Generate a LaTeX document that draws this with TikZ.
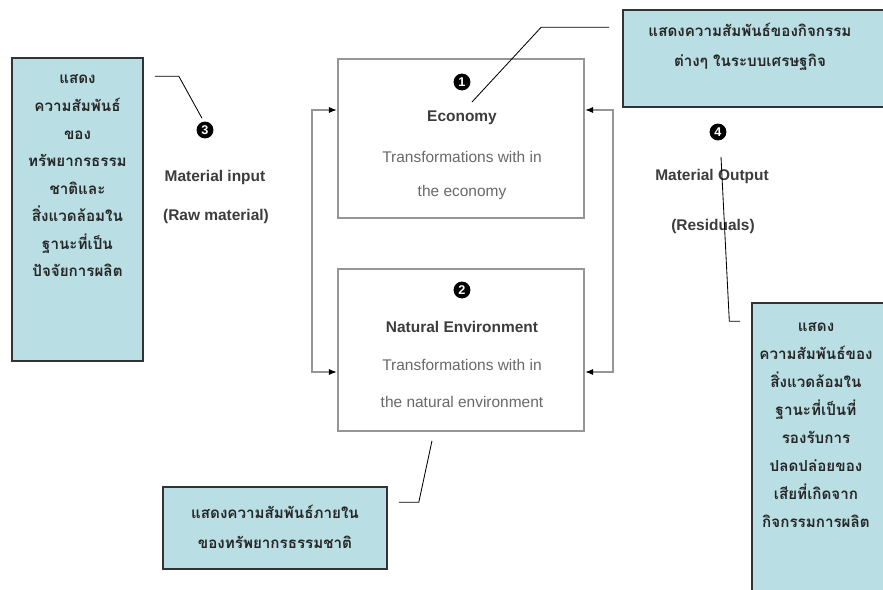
\documentclass[tikz,border=0pt]{standalone}
\usepackage{fontspec}
\setmainfont{Liberation Sans}
\newfontfamily\thaifont[Script=Thai]{Loma}
\usetikzlibrary{arrows.meta,calc,positioning}
\definecolor{notefill}{RGB}{185,222,228}
\definecolor{boxgray}{RGB}{150,150,150}
\definecolor{txtgray}{RGB}{105,105,105}
\definecolor{labgray}{RGB}{60,60,60}

\begin{document}
\begin{tikzpicture}[x=0.025cm,y=-0.025cm,
    sector/.style={draw=boxgray,line width=1.1pt,inner sep=0pt},
    note/.style={draw=black!80,fill=notefill,line width=1.1pt,inner sep=0pt},
    notetext/.style={align=center,text=black!85},
    num/.style={circle,fill=black,text=white,inner sep=0pt,minimum size=12pt,font=\bfseries\fontsize{9}{10}\selectfont},
    title/.style={text=labgray,font=\bfseries\fontsize{11}{13}\selectfont},
    sub/.style={text=txtgray,font=\fontsize{11}{13}\selectfont},
    feed/.style={draw=boxgray,line width=1.1pt,{Latex[black,length=6pt,width=4.5pt]}-{Latex[black,length=6pt,width=4.5pt]}},
    leader/.style={draw=black,line width=0.6pt}]
        % Frame of the picture
        \clip (0,0) rectangle (883,590);
        \fill[white] (0,0) rectangle (883,590);
        % The two sectors
        \node[sector,minimum width=6.15cm,minimum height=3.975cm] (eco) at (461,138.5) {};
        \node[sector,minimum width=6.15cm,minimum height=4.05cm] (nat) at (461,350) {};
        \node[num] (num1) at (462,82) {1};
        \node[title] (econame) at (462,118) {Economy};
        \node[sub] (ecoa) at (462,157) {Transformations with in};
        \node[sub] (ecob) at (462,193) {the economy};
        \node[num] (num2) at (462,290) {2};
        \node[title] (natname) at (462,327) {Natural Environment};
        \node[sub] (nata) at (462,365) {Transformations with in};
        \node[sub] (natb) at (462,402) {the natural environment};
        % Flows between the sectors
        \draw[feed] (eco.west |- 0,110) -- ++(-25,0) |- (nat.west |- 0,372);
        \draw[feed] (eco.east |- 0,110) -- ++(28,0) |- (nat.east |- 0,372);
        % Material in and out
        \node[num] (num3) at (205,130) {3};
        \node[title] (inname) at (215,178) {Material input};
        \node[title] (inraw) at (216,217) {(Raw material)};
        \node[num] (num4) at (718,132) {4};
        \node[title] (outname) at (712,177) {Material Output};
        \node[title] (outres) at (713,227) {(Residuals)};
        % Notes
        \node[note,minimum width=3.275cm,minimum height=7.575cm] (lnote) at (77.5,209.5) {};
        \node[notetext,font=\thaifont\bfseries\fontsize{10.8}{19.6}\selectfont] (lnotetext) at (77.5,176)
            {แสดง\\ความสัมพันธ์\\ของ\\ทรัพยากรธรรม\\ชาติและ\\สิ่งแวดล้อมใน\\ฐานะที่เป็น\\ปัจจัยการผลิต};
        \node[note,minimum width=6.8cm,minimum height=2.425cm] (tnote) at (759,58.5) {};
        \node[notetext,font=\thaifont\bfseries\fontsize{10.8}{21.3}\selectfont] (tnotetext) at (750,47)
            {แสดงความสัมพันธ์ของกิจกรรม\\ต่างๆ ในระบบเศรษฐกิจ};
        \node[note,minimum width=3.575cm,minimum height=7.425cm] (rnote) at (823.5,451.5) {};
        \node[notetext,font=\thaifont\bfseries\fontsize{10.8}{19.9}\selectfont] (rnotetext) at (816,425)
            {แสดง\\ความสัมพันธ์ของ\\สิ่งแวดล้อมใน\\ฐานะที่เป็นที่\\รองรับการ\\ปลดปล่อยของ\\เสียที่เกิดจาก\\กิจกรรมการผลิต};
        \node[note,minimum width=5.6cm,minimum height=2.05cm] (bnote) at (275,528) {};
        \node[notetext,font=\thaifont\bfseries\fontsize{10.8}{21.3}\selectfont] (bnotetext) at (275,527)
            {แสดงความสัมพันธ์ภายใน\\ของทรัพยากรธรรมชาติ};
        % Leader lines
        \coordinate (lA) at ([shift={(11,19)}]lnote.north east);
        \draw[leader] (lA) -- ++(24,0) -- ([shift={(-3,-3)}]num3.north);
        \coordinate (tA) at ([shift={(-13,18)}]tnote.north west);
        \coordinate (eA) at (472,102);
        \draw[leader] (tA) -- ++(-68,0) -- (eA);
        \coordinate (rA) at ([shift={(-11,19)}]rnote.north west);
        \coordinate (oA) at (721,157);
        \draw[leader] (rA) -- ++(-11,0) -- ++(0,-2) -- (oA);
        \coordinate (bA) at ([shift={(11,16)}]bnote.north east);
        \draw[leader] (bA) -- ++(20,0) -- ([shift={(-29,9)}]nat.south);
\end{tikzpicture}
\end{document}
